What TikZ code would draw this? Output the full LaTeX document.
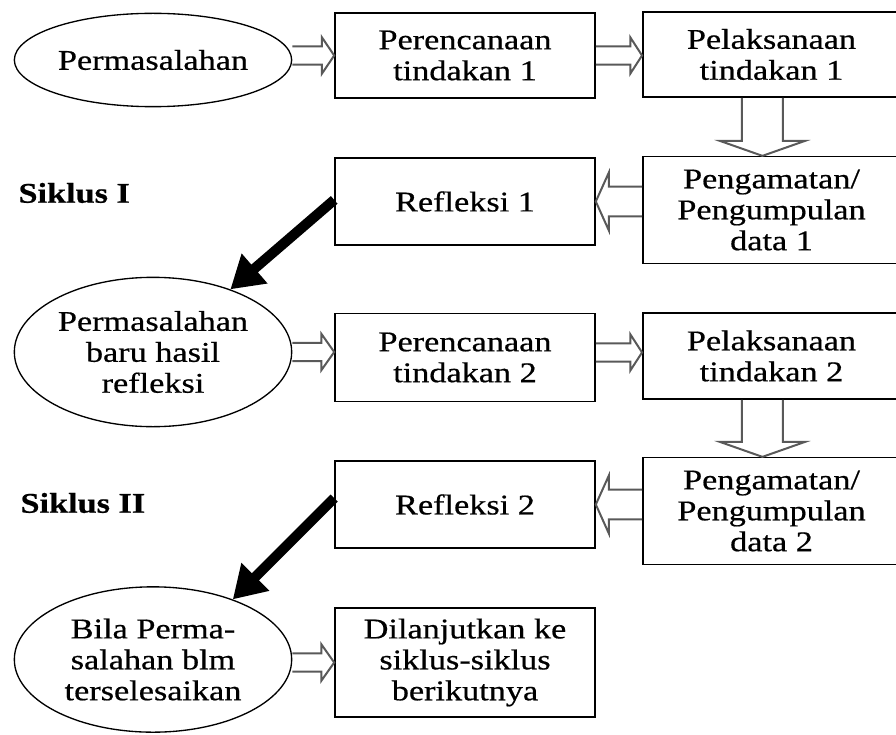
\documentclass[tikz,border=0pt]{standalone}
\usepackage{fontspec}
\setmainfont{Liberation Serif}[FakeStretch=1.2, FakeBold=0.6]
\usetikzlibrary{shapes.geometric, arrows.meta, calc}

% hollow block arrow: start, tip, half shaft, half head, head length
\newcommand{\fatarrow}[5]{%
  \coordinate (fa-s) at (#1);
  \coordinate (fa-t) at (#2);
  \coordinate (fa-m) at ($(fa-t)!#5!(fa-s)$);
  \draw[fat] ($(fa-s)!#3!90:(fa-t)$) -- ($(fa-m)!#3!-90:(fa-s)$)
    -- ($(fa-m)!#4!-90:(fa-s)$) -- (fa-t) -- ($(fa-m)!#4!90:(fa-s)$)
    -- ($(fa-m)!#3!90:(fa-s)$) -- ($(fa-s)!#3!-90:(fa-t)$);
}

\begin{document}
\begin{tikzpicture}[x=0.375pt, y=-0.375pt,
    every node/.style={font=\fontsize{10.7}{11.6}\selectfont, align=center, inner sep=0pt},
    blob/.style={ellipse, draw, line width=0.5pt},
    stage/.style={rectangle, draw, line width=0.6pt},
    fat/.style={draw=black!65, line width=0.75pt, line join=miter},
    jump/.style={line width=3.8pt, -{Triangle[length=12pt, width=14pt]}}]
  \useasboundingbox (0,0) rectangle (896,734);

  % siklus I
  \node[blob, minimum width=104pt, minimum height=35pt] (perm1) at (153,60) {Permasalahan};
  \node[stage, minimum width=97.5pt, minimum height=32pt] (plan1) at (465,55.5) {Perencanaan\\tindakan 1};
  \node[stage, minimum width=96.5pt, minimum height=32pt] (pel1) at (771.5,54.5) {Pelaksanaan\\tindakan 1};
  \node[stage, minimum width=96.5pt, minimum height=40pt] (obs1) at (771.5,210) {Pengamatan/\\Pengumpulan\\data 1};
  \node[stage, minimum width=97.5pt, minimum height=32.6pt] (ref1) at (465,201.5) {Refleksi 1};
  \node[font=\fontsize{10.7}{11.6}\selectfont\bfseries, anchor=west] (cyc1) at (18,193) {Siklus I};

  % siklus II
  \node[blob, minimum width=104pt, minimum height=56pt] (perm2) at (153,352) {Permasalahan\\baru hasil\\refleksi};
  \node[stage, minimum width=97.5pt, minimum height=33pt] (plan2) at (465,357.5) {Perencanaan\\tindakan 2};
  \node[stage, minimum width=96.5pt, minimum height=32.3pt] (pel2) at (771.5,356) {Pelaksanaan\\tindakan 2};
  \node[stage, minimum width=96.5pt, minimum height=40pt] (obs2) at (771.5,511) {Pengamatan/\\Pengumpulan\\data 2};
  \node[stage, minimum width=97.5pt, minimum height=32.6pt] (ref2) at (465,504.5) {Refleksi 2};
  \node[font=\fontsize{10.7}{11.6}\selectfont\bfseries, anchor=west] (cyc2) at (20,503) {Siklus II};

  % lanjutan
  \node[blob, minimum width=104pt, minimum height=54.5pt] (perm3) at (153,659.5) {Bila Perma-\\salahan blm\\terselesaikan};
  \node[stage, minimum width=97.5pt, minimum height=41pt] (next) at (465,662.5) {Dilanjutkan ke\\siklus-siklus\\berikutnya};

  % hollow arrows
  \fatarrow{perm1.east |- plan1.west}{plan1.west}{3.4pt}{6.8pt}{4.6pt}
  \fatarrow{plan1.east}{pel1.west |- plan1.east}{3.4pt}{6.8pt}{4.4pt}
  \fatarrow{[xshift=-3.4pt]pel1.south}{[xshift=-3.4pt]obs1.north}{7.7pt}{15.9pt}{5.6pt}
  \fatarrow{obs1.west |- ref1.east}{ref1.east}{5.6pt}{10.9pt}{4.9pt}
  \fatarrow{perm2.east}{perm2.east -| plan2.west}{3.4pt}{6.8pt}{4.8pt}
  \fatarrow{[yshift=1.9pt]plan2.east}{[yshift=1.9pt]plan2.east -| pel2.west}{3.4pt}{6.8pt}{4.4pt}
  \fatarrow{[xshift=-3.4pt]pel2.south}{[xshift=-3.4pt]obs2.north}{7.7pt}{15.9pt}{5.6pt}
  \fatarrow{obs2.west |- ref2.east}{ref2.east}{5.6pt}{10.9pt}{4.9pt}
  \fatarrow{perm3.east |- next.west}{next.west}{3.4pt}{6.8pt}{4.8pt}

  % back to a new problem
  \draw[jump] ([yshift=0.6pt]ref1.west) -- (perm2.39);
  \draw[jump] ([yshift=2.4pt]ref2.west) -- (perm3.37);
\end{tikzpicture}
\end{document}
